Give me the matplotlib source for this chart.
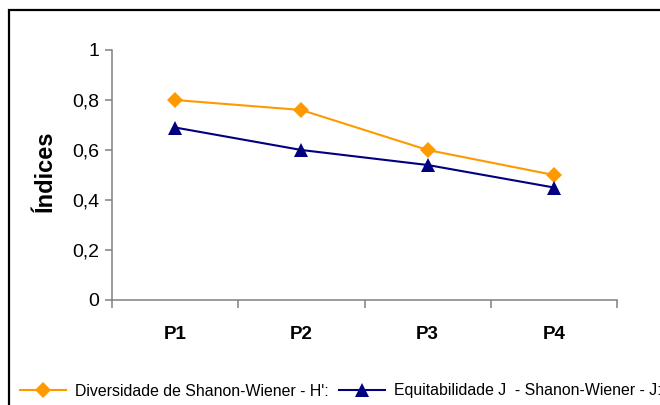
import matplotlib
matplotlib.use("Agg")
import matplotlib.pyplot as plt
from matplotlib.patches import Rectangle
from matplotlib.ticker import FixedLocator

plt.rcParams['font.family'] = ['Liberation Sans', 'DejaVu Sans']

categories = ["P1", "P2", "P3", "P4"]
diversidade = [0.80, 0.76, 0.60, 0.50]
equitabilidade = [0.69, 0.60, 0.54, 0.45]
yticks = [0, 0.2, 0.4, 0.6, 0.8, 1.0]
ytick_labels = ["0", "0,2", "0,4", "0,6", "0,8", "1"]
label_div = "Diversidade de Shanon-Wiener - H':"
label_eq = "Equitabilidade J  - Shanon-Wiener - J:"

W, H = 660, 405
fig = plt.figure(figsize=(W / 100, H / 100), dpi=100)

# outer chart frame
fig.patches.append(Rectangle((9 / W, -0.1), 1.2, 1 - 10.5 / H + 0.1,
                             transform=fig.transFigure, fill=False,
                             edgecolor='black', linewidth=1.6))

ax = fig.add_axes([112 / W, 1 - 300 / H, (617 - 112) / W, 250 / H])
x = list(range(len(categories)))

l1, = ax.plot(x, diversidade, color='#FF9900', linewidth=1.5,
              marker='D', markersize=8.3, markeredgewidth=0,
              label=label_div)
l2, = ax.plot(x, equitabilidade, color='#000080', linewidth=1.5,
              marker='^', markersize=10.5, markeredgewidth=0,
              label=label_eq)

ax.set_xlim(-0.5, len(categories) - 0.5)
ax.set_ylim(0, 1)
ax.set_xticks(x)
ax.set_xticklabels(categories, fontsize=13.5, fontweight='bold')
ax.xaxis.set_minor_locator(FixedLocator([i - 0.5 for i in range(len(categories) + 1)]))
ax.tick_params(axis='x', which='major', length=0, pad=19)
ax.tick_params(axis='x', which='minor', length=6, width=1.1, color='#808080',
               direction='out')
ax.set_yticks(yticks)
ax.set_yticklabels(ytick_labels, fontsize=14)
ax.tick_params(axis='y', length=5, width=1.1, color='#808080', pad=4)

for side in ('top', 'right'):
    ax.spines[side].set_visible(False)
for side in ('left', 'bottom'):
    ax.spines[side].set_color('#808080')
    ax.spines[side].set_linewidth(1.1)

ax.set_ylabel("Índices", fontsize=17, fontweight='bold')
ax.yaxis.set_label_coords(57 / W, 1 - 171 / H, transform=fig.transFigure)

fig.legend(handles=[l1, l2], loc='center left',
           bbox_to_anchor=(20 / W, 1 - 391 / H), bbox_transform=fig.transFigure,
           ncol=2, frameon=False, fontsize=11.4, borderpad=0, borderaxespad=0,
           handlelength=2.9, handletextpad=0.55, columnspacing=0.7)

fig.savefig("out.png", dpi=100)
